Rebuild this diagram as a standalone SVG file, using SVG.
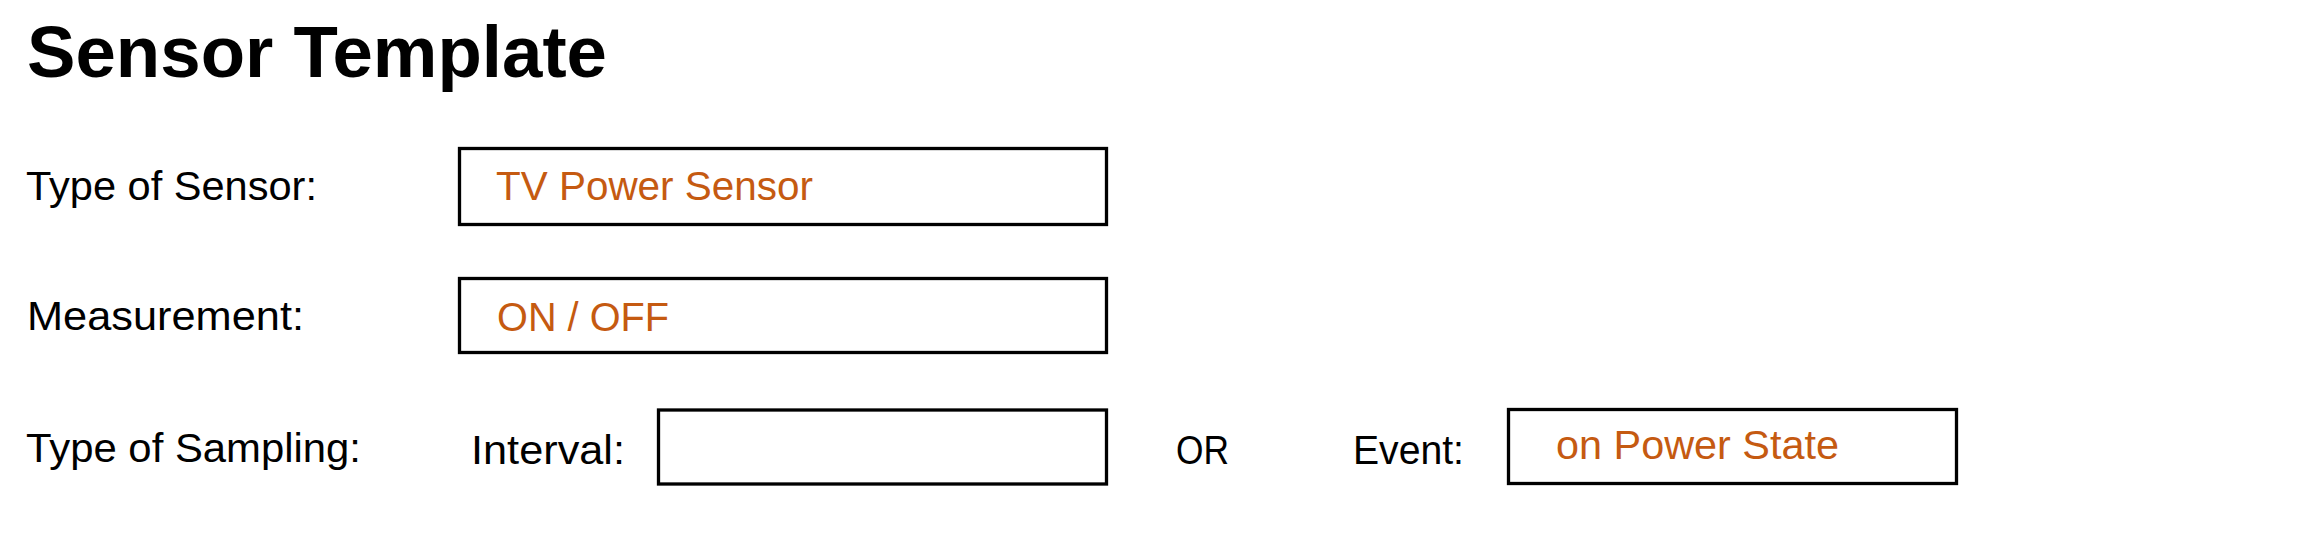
<svg xmlns="http://www.w3.org/2000/svg" width="2299" height="555" viewBox="0 0 2299 555">
<style>
.title{font-family:"Liberation Sans",Arial,sans-serif;font-weight:bold;font-size:72px;fill:#000}
.lbl{font-family:"Liberation Sans",Arial,sans-serif;font-size:41px;fill:#000}
.val{font-family:"Liberation Sans",Arial,sans-serif;font-size:41px;fill:#C55A11}
.box{fill:#fff;stroke:#000;stroke-width:3.3}
</style>
<rect width="2299" height="555" fill="#fff"/>
<g id="title"><text class="title" x="27" y="77" textLength="580" lengthAdjust="spacingAndGlyphs">Sensor Template</text></g>
<g id="type-of-sensor">
<text class="lbl" x="26" y="200" textLength="291" lengthAdjust="spacingAndGlyphs">Type of Sensor:</text>
<rect class="box" x="459.5" y="148.5" width="647" height="76"/>
<text class="val" x="496" y="200" textLength="317" lengthAdjust="spacingAndGlyphs">TV Power Sensor</text>
</g>
<g id="measurement">
<text class="lbl" x="27" y="330" textLength="277" lengthAdjust="spacingAndGlyphs">Measurement:</text>
<rect class="box" x="459.5" y="278.5" width="647" height="74"/>
<text class="val" x="497" y="331" textLength="172" lengthAdjust="spacingAndGlyphs">ON / OFF</text>
</g>
<g id="type-of-sampling">
<text class="lbl" x="26" y="462" textLength="335" lengthAdjust="spacingAndGlyphs">Type of Sampling:</text>
</g>
<g id="interval">
<text class="lbl" x="471" y="464" textLength="154" lengthAdjust="spacingAndGlyphs">Interval:</text>
<rect class="box" x="658.5" y="410" width="448" height="74"/>
</g>
<g id="or"><text class="lbl" x="1176" y="464" textLength="53" lengthAdjust="spacingAndGlyphs">OR</text></g>
<g id="event">
<text class="lbl" x="1353" y="464" textLength="111" lengthAdjust="spacingAndGlyphs">Event:</text>
<rect class="box" x="1508.5" y="409.5" width="448" height="74"/>
<text class="val" x="1556" y="459" textLength="283" lengthAdjust="spacingAndGlyphs">on Power State</text>
</g>
<g id="connectors"></g>
</svg>
